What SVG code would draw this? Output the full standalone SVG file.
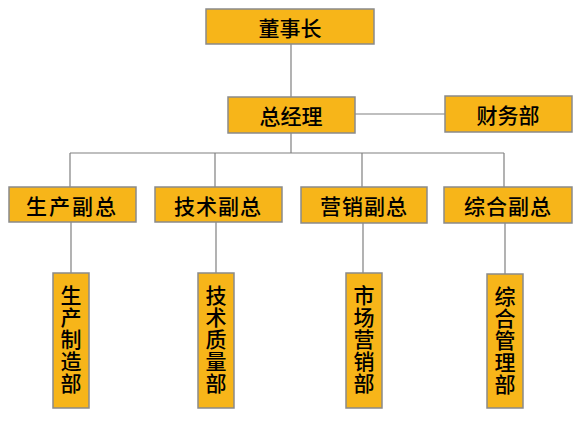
<svg xmlns="http://www.w3.org/2000/svg" width="584" height="425" viewBox="0 0 584 425">
<style>
.box{fill:#F7B519;stroke:#8A8A8A;stroke-width:1.5}
.ln{stroke:#808080;stroke-width:1.2;fill:none}
text{font-family:"Noto Sans CJK SC","Noto Sans",sans-serif;font-size:21px;font-weight:500;fill:#000;text-anchor:middle;dominant-baseline:central}
.v{writing-mode:tb;letter-spacing:1px;dominant-baseline:auto}
</style>
<rect width="584" height="425" fill="#fff"/>
<g id="connectors">
<path class="ln" d="M291,44V97M355,114H445M291,133V153M70,153H504M70,153V187M215,153V187M362,153V187M504,153V187M71,222V273M216,222V273M363,223V273M505,223V274"/>
</g>
<g id="n-dsz"><rect class="box" x="206" y="9" width="168" height="35"/><text x="290" y="27">董事长</text></g>
<g id="n-zjl"><rect class="box" x="228" y="97" width="127" height="36"/><text x="291" y="115">总经理</text></g>
<g id="n-cwb"><rect class="box" x="445" y="96" width="127" height="36"/><text x="508" y="114">财务部</text></g>
<g id="n-scfz"><rect class="box" x="9" y="187" width="127" height="35"/><text x="72" y="205" letter-spacing="2">生产副总</text></g>
<g id="n-jsfz"><rect class="box" x="155" y="187" width="127" height="35"/><text x="218" y="205" letter-spacing="1">技术副总</text></g>
<g id="n-yxfz"><rect class="box" x="301" y="187" width="126" height="36"/><text x="364" y="205" letter-spacing="1">营销副总</text></g>
<g id="n-zhfz"><rect class="box" x="444" y="187" width="128" height="36"/><text x="508" y="205" letter-spacing="1">综合副总</text></g>
<g id="n-sczzb"><rect class="box" x="53" y="273" width="36" height="135"/><text class="v" x="71" y="340">生产制造部</text></g>
<g id="n-jszlb"><rect class="box" x="198" y="273" width="36" height="135"/><text class="v" x="216" y="340">技术质量部</text></g>
<g id="n-scyxb"><rect class="box" x="346" y="273" width="36" height="135"/><text class="v" x="364" y="340">市场营销部</text></g>
<g id="n-zhglb"><rect class="box" x="487" y="274" width="36" height="134"/><text class="v" x="505" y="341">综合管理部</text></g>
</svg>
